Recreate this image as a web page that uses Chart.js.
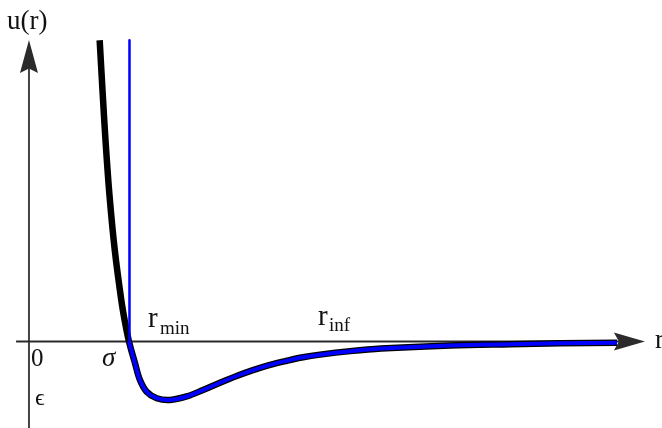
<!DOCTYPE html>
<html>
<head>
<meta charset="utf-8">
<script src="https://cdn.jsdelivr.net/npm/chart.js@4/dist/chart.umd.min.js"></script>
<style>
  html, body { margin: 0; padding: 0; background: #fff; }
  canvas { display: block; }
</style>
</head>
<body>
<canvas id="c" width="662" height="428"></canvas>
<script>
// Lennard-Jones pair potential, reduced units: r in units of sigma, u in units of epsilon
const ljR = [0.9125, 0.9209, 0.9299, 0.9418, 0.9576, 0.9770, 0.9881, 1.0000, 1.0179, 1.0328,
             1.0528, 1.0827, 1.1224, 1.1722, 1.2209, 1.2716, 1.3215, 1.3701, 1.4209, 1.4707,
             1.5194, 1.5701, 1.6600, 1.7522, 1.9582, 2.1373, 2.2866, 2.4567];
const ljU = [5.15, 4.30, 3.44, 2.50, 1.56, 0.71, 0.33, 0.00, -0.37, -0.66,
             -0.86, -0.97, -1.00, -0.94, -0.83, -0.705, -0.59, -0.49, -0.40, -0.33,
             -0.27, -0.225, -0.165, -0.12, -0.068, -0.046, -0.031, -0.02];

// Hard wall at r = sigma, followed by the attractive tail
const wallR = [1.0015, 1.0015];
const wallU = [5.15, 0.00];
const tailStart = ljR.indexOf(1.0000);
const tailR = ljR.slice(tailStart);
const tailU = ljU.slice(tailStart);

// Axis geometry (data units)
const yAxisR = 0.7015;       // position of the vertical axis
const xAxisFromR = 0.663;    // left end of the horizontal axis
const xAxisTipR = 2.540;     // arrow tip of the horizontal axis
const yAxisTipU = 5.154;     // arrow tip of the vertical axis

const pts = (xs, ys) => xs.map((v, i) => ({ x: v, y: ys[i] }));

const axesPlugin = {
  id: 'axesWithArrows',
  beforeDatasetsDraw(chart) {
    const { ctx, scales: { x, y }, chartArea } = chart;
    const ax = x.getPixelForValue(yAxisR);
    const ay = y.getPixelForValue(0);
    ctx.save();
    ctx.lineCap = 'butt';
    // vertical axis
    ctx.strokeStyle = '#444';
    ctx.lineWidth = 2;
    ctx.beginPath();
    ctx.moveTo(ax, chartArea.bottom);
    ctx.lineTo(ax, y.getPixelForValue(yAxisTipU) + 20);
    ctx.stroke();
    // horizontal axis
    ctx.strokeStyle = '#2a2a2a';
    ctx.beginPath();
    ctx.moveTo(x.getPixelForValue(xAxisFromR), ay);
    ctx.lineTo(x.getPixelForValue(xAxisTipR) - 20, ay);
    ctx.stroke();
    ctx.restore();
  },
  afterDatasetsDraw(chart) {
    const { ctx, scales: { x, y } } = chart;
    const ax = x.getPixelForValue(yAxisR);
    const ay = y.getPixelForValue(0);
    const ty = y.getPixelForValue(yAxisTipU);
    const tx = x.getPixelForValue(xAxisTipR);
    ctx.save();
    ctx.fillStyle = '#2b2b2b';
    // up arrow
    ctx.beginPath();
    ctx.moveTo(ax, ty);
    ctx.lineTo(ax + 9, ty + 33);
    ctx.lineTo(ax, ty + 28.5);
    ctx.lineTo(ax - 9, ty + 33);
    ctx.closePath();
    ctx.fill();
    // right arrow
    ctx.beginPath();
    ctx.moveTo(tx, ay);
    ctx.lineTo(tx - 31, ay - 9);
    ctx.lineTo(tx - 26, ay);
    ctx.lineTo(tx - 31, ay + 9);
    ctx.closePath();
    ctx.fill();

    // annotations
    ctx.fillStyle = '#111';
    ctx.textBaseline = 'alphabetic';
    ctx.textAlign = 'left';
    const serif = '"Liberation Serif", "Times New Roman", serif';
    ctx.font = `27px ${serif}`;
    ctx.fillText('u(r)', 7, 29);
    ctx.fillText('r', 655, 348);
    ctx.font = `25px ${serif}`;
    ctx.fillText('0', 31, 366);
    ctx.font = `29px ${serif}`;
    ctx.fillText('r', 148, 327);
    ctx.fillText('r', 318, 325);
    ctx.font = `19px ${serif}`;
    ctx.fillText('min', 160, 334);
    ctx.fillText('inf', 329, 331);
    ctx.font = `italic 27px ${serif}`;
    ctx.fillText('\u03C3', 102, 366);
    ctx.font = `24px ${serif}`;
    ctx.fillText('\u03F5', 35, 405);
    ctx.restore();
  }
};

const curveStyle = {
  showLine: true,
  pointRadius: 0,
  tension: 0.35,
  borderJoinStyle: 'round',
  borderCapStyle: 'butt'
};

new Chart(document.getElementById('c'), {
  type: 'scatter',
  data: {
    datasets: [
      Object.assign({ data: pts(ljR, ljU), borderColor: '#000', borderWidth: 6.5, order: 3 }, curveStyle),
      Object.assign({ data: pts(tailR, tailU), borderColor: '#0000ff', borderWidth: 4, order: 2 }, curveStyle),
      Object.assign({}, curveStyle, { data: pts(wallR, wallU), borderColor: '#0000ff', borderWidth: 2.5, tension: 0, order: 1 })
    ]
  },
  options: {
    responsive: false,
    animation: false,
    devicePixelRatio: 1,
    layout: { padding: 0 },
    plugins: { legend: { display: false }, tooltip: { enabled: false } },
    scales: {
      x: { type: 'linear', min: 0.615, max: 2.591, display: false },
      y: { type: 'linear', min: -1.479, max: 5.838, display: false }
    }
  },
  plugins: [axesPlugin]
});
</script>
</body>
</html>
